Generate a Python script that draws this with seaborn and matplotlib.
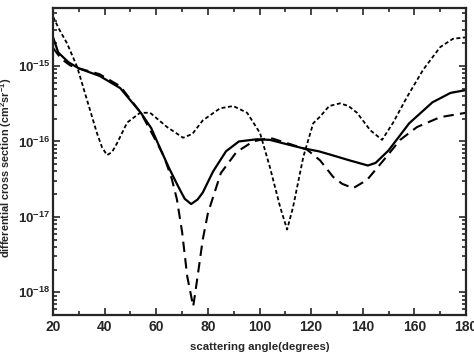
import matplotlib
matplotlib.use("Agg")
import matplotlib.pyplot as plt
import numpy as np
import seaborn as sns
from matplotlib.ticker import LogLocator, LogFormatterMathtext, MultipleLocator, NullFormatter

# Values (angle in degrees, cross section in cm^2 sr^-1)
solid_angle = [20, 22, 26, 30, 38, 46, 50, 54, 58, 62, 65, 67, 69, 71, 73.5, 76, 78,
               82, 87, 92, 99, 104, 110, 117, 123, 128, 135, 142, 145, 150, 158, 167,
               174, 180]
solid_xs = [2.40e-15, 1.51e-15, 1.12e-15, 9.3e-16, 7.4e-16, 5.1e-16, 3.5e-16, 2.4e-16,
            1.51e-16, 7.4e-17, 4.4e-17, 3.2e-17, 2.34e-17, 1.74e-17, 1.48e-17, 1.7e-17,
            2.1e-17, 4.0e-17, 7.4e-17, 1.0e-16, 1.07e-16, 1.05e-16, 9.3e-17, 8.1e-17,
            7.4e-17, 6.6e-17, 5.6e-17, 4.8e-17, 5.2e-17, 7.6e-17, 1.74e-16, 3.3e-16,
            4.4e-16, 4.8e-16]

dash_angle = [20, 23, 26.6, 30, 38, 46, 54, 60, 63, 66, 68, 70, 72, 74.3, 76, 78, 80,
              85, 91, 97.5, 104, 110.7, 118.4, 123.5, 128.5, 132, 136.3, 141.7, 148,
              154.5, 161, 170, 180]
dash_xs = [1.74e-15, 1.26e-15, 1.02e-15, 9.3e-16, 7.8e-16, 5.4e-16, 2.4e-16, 1.0e-16,
           6.3e-17, 3.2e-17, 1.7e-17, 6.3e-18, 1.62e-18, 6.5e-19, 1.62e-18, 5.0e-18,
           1.12e-17, 3.8e-17, 7.2e-17, 1.0e-16, 1.12e-16, 9.5e-17, 7.8e-17, 5.6e-17,
           3.4e-17, 2.75e-17, 2.4e-17, 3.1e-17, 5.6e-17, 1.05e-16, 1.55e-16, 2.1e-16,
           2.4e-16]

short_angle = [20, 22.5, 25.4, 29.3, 33.2, 37, 39, 40.9, 42.8, 44.8, 48.7, 53.7, 57.6,
               64.2, 70.4, 74, 78, 84.7, 89.8, 95.2, 100.2, 104, 108, 110.7, 113, 117,
               120.8, 123.5, 127, 131.2, 134.5, 137.8, 142.9, 147.5, 151.8, 157.2,
               163.4, 170, 175, 180]
short_xs = [4.5e-15, 3.0e-15, 2.0e-15, 9.8e-16, 3.5e-16, 1.29e-16, 8.3e-17, 6.6e-17,
            7.2e-17, 9.5e-17, 1.78e-16, 2.4e-16, 2.4e-16, 1.55e-16, 1.12e-16, 1.26e-16,
            1.9e-16, 2.75e-16, 2.95e-16, 2.4e-16, 1.29e-16, 4.6e-17, 1.35e-17, 6.8e-18,
            1.35e-17, 6.3e-17, 1.74e-16, 2.14e-16, 2.95e-16, 3.2e-16, 2.95e-16, 2.4e-16,
            1.41e-16, 1.05e-16, 1.78e-16, 3.9e-16, 8.9e-16, 1.78e-15, 2.3e-15, 2.4e-15]

sns.set_style("ticks")
plt.rcParams["font.family"] = ["Liberation Sans", "DejaVu Sans"]
plt.rcParams["font.weight"] = "bold"
plt.rcParams["mathtext.fontset"] = "custom"
plt.rcParams["mathtext.rm"] = "Liberation Sans:bold"
plt.rcParams["mathtext.it"] = "Liberation Sans:bold"
plt.rcParams["mathtext.bf"] = "Liberation Sans:bold"

fig = plt.figure(figsize=(4.74, 3.58), dpi=100)
ax = fig.add_axes([0.112, 0.12, 0.871, 0.858])

sns.lineplot(x=short_angle, y=short_xs, ax=ax, color="black", lw=1.3)
sns.lineplot(x=dash_angle, y=dash_xs, ax=ax, color="black", lw=1.5)
sns.lineplot(x=solid_angle, y=solid_xs, ax=ax, color="black", lw=1.6)
ax.lines[0].set_dashes([2.2, 1.4])
ax.lines[1].set_dashes([5, 3])

ax.set_yscale("log")
ax.set_xlim(20, 180)
ax.set_ylim(5.0e-19, 5.9e-15)
ax.xaxis.set_major_locator(MultipleLocator(20))
ax.xaxis.set_minor_locator(MultipleLocator(10))
ax.yaxis.set_major_locator(LogLocator(base=10, numticks=10))
ax.yaxis.set_minor_locator(LogLocator(base=10, subs=np.arange(2, 10), numticks=20))
ax.yaxis.set_major_formatter(LogFormatterMathtext())
ax.yaxis.set_minor_formatter(NullFormatter())

ax.tick_params(which="both", direction="in", top=True, right=True, width=1.2)
ax.tick_params(which="major", length=5, labelsize=10)
ax.tick_params(axis="y", which="major", labelsize=9.5, pad=2)
ax.tick_params(which="minor", length=3)
for s in ax.spines.values():
    s.set_linewidth(1.6)

ax.set_xlabel("scattering angle(degrees)", fontsize=8.2, fontweight="bold")
ax.set_ylabel("differential cross section (cm$^2$sr$^{-1}$)", fontsize=7.8,
              fontweight="bold")
ax.xaxis.set_label_coords(0.5, -0.088)
ax.yaxis.set_label_coords(-0.094, 0.48)

fig.savefig("out.png", dpi=100)
